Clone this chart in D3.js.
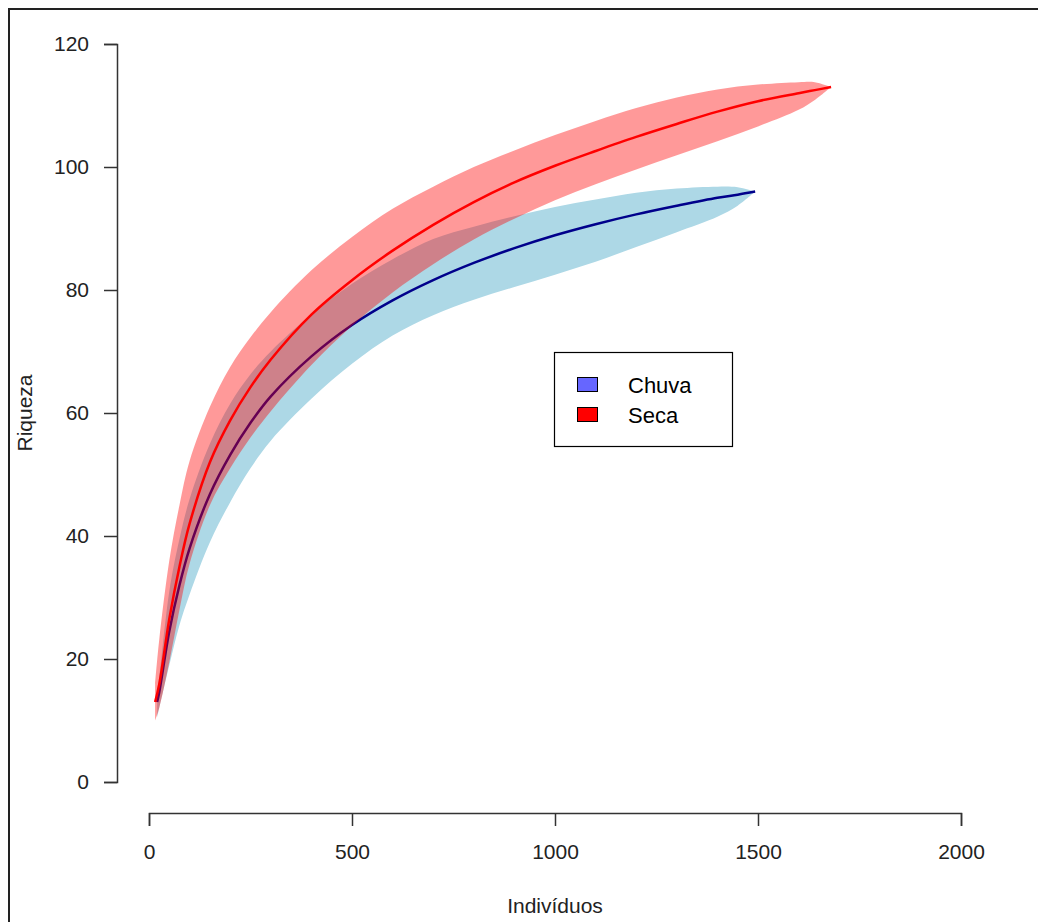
<!DOCTYPE html>
<meta charset="utf-8">
<style>
body { margin: 0; background: #fff; }
text { font-family: "Liberation Sans", Arial, sans-serif; fill: #222; }
.axis path, .axis line { stroke: #333; stroke-width: 1.5; fill: none; }
</style>
<svg width="1038" height="922"></svg>
<script src="https://cdn.jsdelivr.net/npm/d3@7/dist/d3.min.js"></script>
<script>

// rarefaction curves (individuals -> species)
var chuvaN    = [20, 25, 50, 75, 100, 150, 200, 250, 300, 400, 500, 600, 700, 800, 900, 1000, 1100, 1200, 1300, 1400, 1450, 1493];
var chuvaMean = [13, 14.5, 24.5, 32, 38, 46.8, 53.2, 58.4, 62.7, 69.2, 74.3, 78.3, 81.6, 84.4, 86.8, 88.9, 90.7, 92.3, 93.7, 95, 95.5, 96];
var chuvaLow  = [10.5, 12, 19, 25.5, 30.5, 39, 45.5, 51, 55.5, 62.3, 68, 72.6, 75.9, 78.4, 80.5, 82.5, 84.6, 87, 89.4, 91.9, 93.7, 96];
var chuvaHigh = [15, 17, 31, 39.5, 46, 55, 61.5, 66.3, 70, 76, 81, 85, 88.3, 90.3, 92, 93.5, 94.7, 95.8, 96.5, 96.8, 96.7, 96];

var secaN    = [15, 25, 50, 75, 100, 150, 200, 250, 300, 400, 500, 600, 700, 800, 900, 1000, 1100, 1200, 1300, 1400, 1500, 1600, 1640, 1680];
var secaMean = [13, 15.8, 26.5, 35, 42, 52, 58.8, 64.2, 68.7, 76, 81.6, 86.4, 90.6, 94.3, 97.5, 100.2, 102.6, 104.9, 107, 109, 110.7, 112, 112.5, 113];
var secaLow  = [10, 12, 19.5, 28, 35.5, 45, 51, 56, 60.3, 67.8, 74.2, 79.6, 84.2, 88.2, 91.6, 94.6, 97.2, 99.6, 101.9, 104.2, 106.6, 109.3, 110.9, 113];
var secaHigh = [16, 23, 36, 45, 52.2, 61, 67.5, 72.3, 76.4, 83.2, 88.6, 93.2, 96.8, 100, 102.7, 105.2, 107.5, 109.6, 111.3, 112.6, 113.4, 113.8, 113.8, 113];

var xTicks = [0, 500, 1000, 1500, 2000];
var yTicks = [0, 20, 40, 60, 80, 100, 120];
var legendNames = ["Chuva", "Seca"];
var legendColors = ["#6666ff", "#ff0000"];

var svg = d3.select("svg");

// outer frame (only left and top edges fall inside the picture)
svg.append("rect")
    .attr("x", 9).attr("y", 9)
    .attr("width", 1200).attr("height", 1200)
    .attr("fill", "#fff")
    .attr("stroke", "#222")
    .attr("stroke-width", 2);

var x = d3.scaleLinear().domain([0, 2000]).range([149, 961]);
var y = d3.scaleLinear().domain([0, 120]).range([782, 44]);

function rows(n, m, lo, hi) {
  return n.map(function(v, i) { return {n: v, m: m[i], lo: lo[i], hi: hi[i]}; });
}
var chuva = rows(chuvaN, chuvaMean, chuvaLow, chuvaHigh),
    seca = rows(secaN, secaMean, secaLow, secaHigh);

var area = d3.area()
    .x(function(d) { return x(d.n); })
    .y0(function(d) { return y(d.lo); })
    .y1(function(d) { return y(d.hi); })
    .curve(d3.curveCatmullRom.alpha(0.5));

var line = d3.line()
    .x(function(d) { return x(d.n); })
    .y(function(d) { return y(d.m); })
    .curve(d3.curveCatmullRom.alpha(0.5));

svg.append("path").datum(chuva).attr("d", area).attr("fill", "#add8e6");
svg.append("path").datum(chuva).attr("d", line)
    .attr("fill", "none").attr("stroke", "#00008b").attr("stroke-width", 2.5);
svg.append("path").datum(seca).attr("d", area).attr("fill", "rgba(255,0,0,0.4)");
svg.append("path").datum(seca).attr("d", line)
    .attr("fill", "none").attr("stroke", "#ff0000").attr("stroke-width", 2.5);

// axes, R style
svg.append("g")
    .attr("class", "axis")
    .attr("transform", "translate(0,813)")
    .call(d3.axisBottom(x).tickValues(xTicks).tickFormat(d3.format("d"))
      .tickSize(13).tickSizeOuter(13).tickPadding(18));

svg.append("g")
    .attr("class", "axis")
    .attr("transform", "translate(117,0)")
    .call(d3.axisLeft(y).tickValues(yTicks).tickFormat(d3.format("d"))
      .tickSize(13).tickSizeOuter(13).tickPadding(15));

d3.selectAll(".axis").attr("font-family", null).attr("font-size", null);
d3.selectAll(".axis text").style("font-size", "21px").attr("fill", "#222");

svg.append("text")
    .attr("x", 555).attr("y", 913)
    .attr("text-anchor", "middle")
    .style("font-size", "21px")
    .text("Indivíduos");

svg.append("text")
    .attr("transform", "translate(32,413) rotate(-90)")
    .attr("text-anchor", "middle")
    .style("font-size", "21px")
    .text("Riqueza");

// legend
var legend = svg.append("g");
legend.append("rect")
    .attr("x", 554.5).attr("y", 352.5)
    .attr("width", 178).attr("height", 94)
    .attr("fill", "#fff").attr("stroke", "#000").attr("stroke-width", 1.2);

var item = legend.selectAll(".item")
    .data(legendNames)
  .enter().append("g")
    .attr("transform", function(d, i) { return "translate(0," + (i * 30) + ")"; });

item.append("rect")
    .attr("x", 577.5).attr("y", 377.5)
    .attr("width", 20).attr("height", 14)
    .attr("fill", function(d, i) { return legendColors[i]; })
    .attr("stroke", "#000");

item.append("text")
    .attr("x", 628).attr("y", 393)
    .style("font-size", "22px")
    .style("fill", "#000")
    .text(function(d) { return d; });

</script>
